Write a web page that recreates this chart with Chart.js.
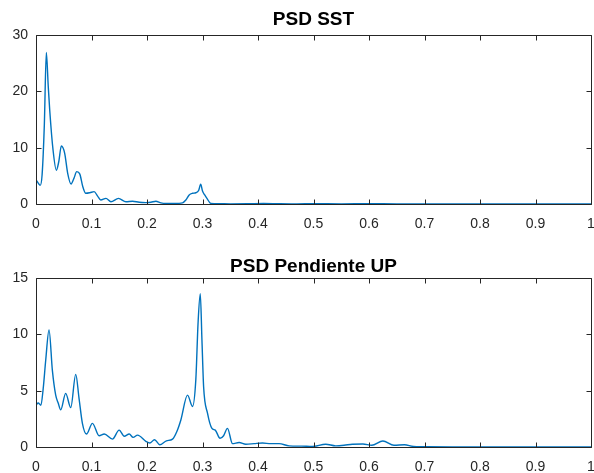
<!DOCTYPE html>
<html>
<head>
<meta charset="utf-8">
<script src="https://cdn.jsdelivr.net/npm/chart.js@4/dist/chart.umd.min.js"></script>
<style>
  html, body { margin: 0; padding: 0; background: #ffffff; }
  #wrap { position: relative; width: 594px; height: 473px; background: #ffffff; }
  canvas { position: absolute; left: 0; }
  #c1 { top: 0; }
  #c2 { top: 236px; }
</style>
</head>
<body>
<div id="wrap">
  <canvas id="c1" width="594" height="236"></canvas>
  <canvas id="c2" width="594" height="237"></canvas>
</div>
<script>
// Power spectral density of sea-surface temperature
const sstFreq = [0, 0.004, 0.0075, 0.011, 0.015, 0.0186, 0.022, 0.0247, 0.0307, 0.0367, 0.041, 0.0457, 0.0517, 0.057, 0.0632, 0.0685, 0.0734, 0.079, 0.084, 0.0897, 0.097, 0.1047, 0.111, 0.1167, 0.126, 0.135, 0.1486, 0.162, 0.174, 0.186, 0.198, 0.207, 0.216, 0.225, 0.234, 0.25, 0.264, 0.27, 0.276, 0.282, 0.288, 0.293, 0.2967, 0.3, 0.304, 0.308, 0.315, 0.33, 0.35, 0.38, 0.41, 0.44, 0.47, 0.5, 0.55, 0.6, 0.65, 0.7, 0.8, 0.9, 1.0];
const sstPsd  = [4.3, 3.7, 3.3, 5.2, 14, 26.9, 21, 16.7, 9.6, 6.0, 7.5, 10.3, 9.0, 5.5, 3.55, 4.6, 5.74, 5.3, 3.2, 1.9, 2.0, 2.2, 1.4, 0.7, 1.0, 0.4, 1.0, 0.4, 0.5, 0.3, 0.25, 0.3, 0.5, 0.2, 0.1, 0.1, 0.2, 0.7, 1.6, 1.9, 2.0, 2.4, 3.5, 2.3, 1.6, 1.0, 0.1, 0.05, 0.03, 0.05, 0.1, 0.04, 0.03, 0.05, 0.03, 0.05, 0.02, 0.02, 0.01, 0.01, 0.01];

// Power spectral density of the upwelling slope
const upFreq = [0, 0.004, 0.0088, 0.013, 0.0175, 0.0235, 0.0295, 0.0355, 0.04, 0.0445, 0.0535, 0.0626, 0.0716, 0.0776, 0.0836, 0.0909, 0.1017, 0.1137, 0.123, 0.1378, 0.1498, 0.159, 0.168, 0.175, 0.183, 0.198, 0.205, 0.2136, 0.223, 0.235, 0.246, 0.254, 0.261, 0.273, 0.282, 0.288, 0.292, 0.296, 0.299, 0.302, 0.309, 0.317, 0.323, 0.3316, 0.338, 0.345, 0.354, 0.366, 0.378, 0.393, 0.408, 0.423, 0.438, 0.456, 0.478, 0.498, 0.522, 0.54, 0.555, 0.57, 0.589, 0.605, 0.625, 0.645, 0.664, 0.68, 0.697, 0.75, 0.8, 0.9, 1.0];
const upPsd  = [3.73, 3.9, 3.7, 5.2, 7.7, 10.4, 6.8, 4.6, 3.9, 3.3, 4.76, 3.5, 6.45, 4.3, 2.1, 1.15, 2.1, 1.0, 1.15, 0.7, 1.5, 0.95, 1.15, 0.85, 1.05, 0.5, 0.35, 0.65, 0.2, 0.55, 0.7, 1.4, 2.4, 4.6, 3.6, 6.0, 11, 13.6, 9.5, 5.35, 3.0, 1.65, 1.5, 0.77, 1.0, 1.65, 0.3, 0.4, 0.25, 0.3, 0.35, 0.3, 0.3, 0.1, 0.08, 0.05, 0.25, 0.1, 0.15, 0.25, 0.27, 0.15, 0.53, 0.15, 0.2, 0.05, 0.03, 0.01, 0.01, 0.01, 0.01];

// Tick labels
const xTickLabels   = ['0', '0.1', '0.2', '0.3', '0.4', '0.5', '0.6', '0.7', '0.8', '0.9', '1'];
const sstTickLabels = ['0', '10', '20', '30'];
const upTickLabels  = ['0', '5', '10', '15'];

const FONT = '"Liberation Sans", Arial, Helvetica, sans-serif';
const AXIS_COLOR = '#262626';
const LINE_COLOR = '#0072BD';

// Draws the axes box with inward tick marks on all four sides
const boxPlugin = {
  id: 'axesBox',
  afterDatasetsDraw(chart) {
    const { ctx, chartArea: a, scales: { x, y } } = chart;
    const L = Math.floor(a.left) + 0.5, R = Math.floor(a.right) + 0.5;
    const T = Math.floor(a.top) + 0.5, B = Math.floor(a.bottom) + 0.5;
    const len = 5;
    ctx.save();
    ctx.strokeStyle = AXIS_COLOR;
    ctx.lineWidth = 1;
    ctx.beginPath();
    ctx.rect(L, T, R - L, B - T);
    x.ticks.forEach(t => {
      const px = Math.round(x.getPixelForValue(t.value)) + 0.5;
      ctx.moveTo(px, B); ctx.lineTo(px, B - len);
      ctx.moveTo(px, T); ctx.lineTo(px, T + len);
    });
    y.ticks.forEach(t => {
      const py = Math.round(y.getPixelForValue(t.value)) + 0.5;
      ctx.moveTo(L, py); ctx.lineTo(L + len, py);
      ctx.moveTo(R, py); ctx.lineTo(R - len, py);
    });
    ctx.stroke();
    ctx.restore();
  }
};

function makeChart(id, title, freq, psd, yMax, yStep, yLabels, titlePad, xAxisH) {
  const pts = freq.map((f, i) => ({ x: f, y: psd[i] }));
  return new Chart(document.getElementById(id), {
    type: 'line',
    data: {
      datasets: [{
        data: pts,
        borderColor: LINE_COLOR,
        borderWidth: 1.4,
        pointRadius: 0,
        fill: false,
        cubicInterpolationMode: 'monotone'
      }]
    },
    options: {
      responsive: false,
      animation: false,
      devicePixelRatio: 1,
      layout: { padding: { left: 0, right: 3, top: 0, bottom: 0 } },
      plugins: {
        legend: { display: false },
        tooltip: { enabled: false },
        title: {
          display: true,
          fullSize: false,
          text: title,
          color: '#000000',
          font: { family: FONT, size: 19, weight: 'bold' },
          padding: titlePad
        }
      },
      scales: {
        x: {
          type: 'linear',
          min: 0, max: 1,
          grid: { display: false, drawTicks: false },
          border: { display: false },
          ticks: {
            stepSize: 0.1,
            padding: 12,
            maxRotation: 0,
            autoSkip: false,
            color: AXIS_COLOR,
            font: { family: FONT, size: 14 },
            callback: (v, i) => xTickLabels[i]
          },
          afterFit: s => { s.height = xAxisH; s.paddingLeft = 0; s.paddingRight = 0; }
        },
        y: {
          type: 'linear',
          min: 0, max: yMax,
          grid: { display: false, drawTicks: false },
          border: { display: false },
          ticks: {
            stepSize: yStep,
            padding: 8,
            color: AXIS_COLOR,
            font: { family: FONT, size: 14 },
            callback: (v, i) => yLabels[i]
          },
          afterFit: s => { s.width = 36; s.paddingTop = 0; s.paddingBottom = 0; }
        }
      }
    },
    plugins: [boxPlugin]
  });
}

makeChart('c1', 'PSD SST', sstFreq, sstPsd, 30, 10, sstTickLabels, { top: 8.6, bottom: 3.6 }, 32);
makeChart('c2', 'PSD Pendiente UP', upFreq, upPsd, 15, 5, upTickLabels, { top: 19.2, bottom: 0 }, 26);
</script>
</body>
</html>
